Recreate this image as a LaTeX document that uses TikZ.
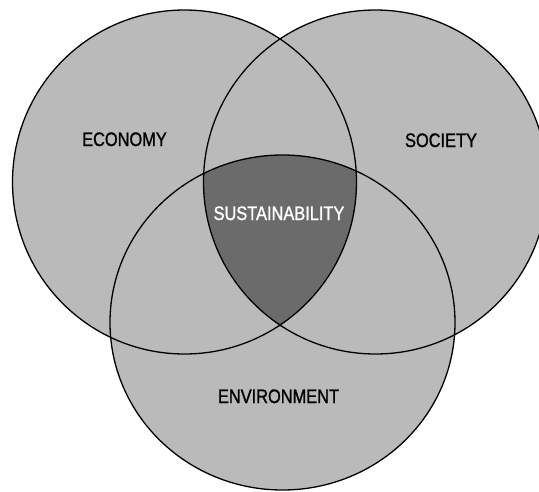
\documentclass[tikz,border=0pt]{standalone}
\usepackage{fontspec}
\newfontfamily\labfont{Liberation Sans}[FakeStretch=0.84,FakeBold=1.2]
\begin{document}
\begin{tikzpicture}[x=1pt,y=-1pt,
  setfill/.style={fill=black!27},
  corefill/.style={fill=black!58},
  ring/.style={draw=black,line width=1.3pt},
  lab/.style={font=\labfont\fontsize{19.5}{20}\selectfont,inner sep=0pt,anchor=base}]
\useasboundingbox (0,0) rectangle (539,491);
\begin{scope}
\clip (0,0) rectangle (539,491);
% regions
\fill[setfill] (184.5,182) circle (172);
\fill[setfill] (375.5,182) circle (172);
\fill[setfill] (282.5,322.5) ellipse [x radius=172.5, y radius=167.5];
\begin{scope}
  \clip (184.5,182) circle (172);
  \clip (375.5,182) circle (172);
  \fill[corefill] (282.5,322.5) ellipse [x radius=172.5, y radius=167.5];
\end{scope}
% outlines
\draw[ring] (184.5,182) circle (172);
\draw[ring] (375.5,182) circle (172);
\draw[ring] (282.5,322.5) ellipse [x radius=172.5, y radius=167.5];
\end{scope}
% labels
\node[lab] (economy) at (124.5,146) {ECONOMY};
\node[lab] (society) at (441,147) {SOCIETY};
\node[lab,text=white] (sustain) at (279,220) {SUSTAINABILITY};
\node[lab] (environment) at (278.5,403) {ENVIRONMENT};
\end{tikzpicture}
\end{document}
